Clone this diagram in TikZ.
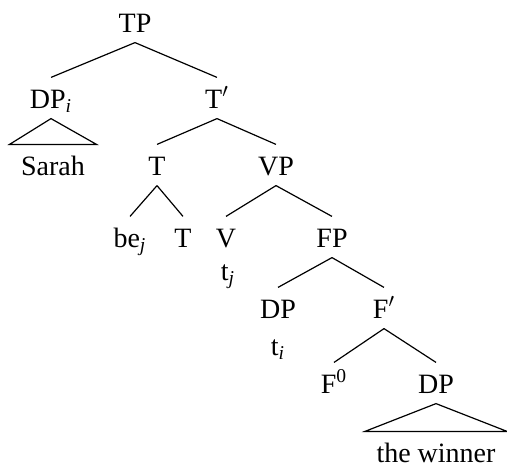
\documentclass[tikz,border=0pt]{standalone}
\usepackage{fontspec}
\setmainfont{Liberation Serif}
\newfontfamily\treefont{Liberation Serif}
\begin{document}
\begin{tikzpicture}[x=0.5pt,y=-0.5pt,line width=0.6pt,
  every node/.style={anchor=base,inner sep=0pt,text height=15pt,text depth=5pt,
    font=\treefont\fontsize{14}{17}\selectfont},
  roof/.style={inner xsep=5.5pt}]
  \useasboundingbox (0,0) rectangle (507,467);
  \node (tp) at (135,32) {TP};
  \node (dpi) at (51,108) {DP\textsubscript{\textit{i}}};
  \node (tbar) at (217,108) {T$'$};
  \node [roof] (sarah) at (53,175) {Sarah};
  \node (t) at (157,175) {T};
  \node (vp) at (276,175) {VP};
  \node (be) at (130,247) {be\textsubscript{\textit{j}}};
  \node (t2) at (183,247) {T};
  \node (v) at (226,247) {V};
  \node (fp) at (332,247) {FP};
  \node (tj) at (228,280) {t\textsubscript{\textit{j}}};
  \node (dp) at (278,318) {DP};
  \node (fbar) at (384,318) {F$'$};
  \node (ti) at (278,355) {t\textsubscript{\textit{i}}};
  \node (f0) at (334,393) {F\textsuperscript{0}};
  \node (dp2) at (436,393) {DP};
  \node [roof] (winner) at (436,462) {the winner};
  \draw (tp.south) -- (dpi.north);
  \draw (tp.south) -- (tbar.north);
  \draw (dpi.south) -- (sarah.north west) -- (sarah.north east) -- cycle;
  \draw (tbar.south) -- (t.north);
  \draw (tbar.south) -- (vp.north);
  \draw (t.south) -- (be.north);
  \draw (t.south) -- (t2.north);
  \draw (vp.south) -- (v.north);
  \draw (vp.south) -- (fp.north);
  \draw (fp.south) -- (dp.north);
  \draw (fp.south) -- (fbar.north);
  \draw (fbar.south) -- (f0.north);
  \draw (fbar.south) -- (dp2.north);
  \draw (dp2.south) -- (winner.north west) -- (winner.north east) -- cycle;
\end{tikzpicture}
\end{document}
